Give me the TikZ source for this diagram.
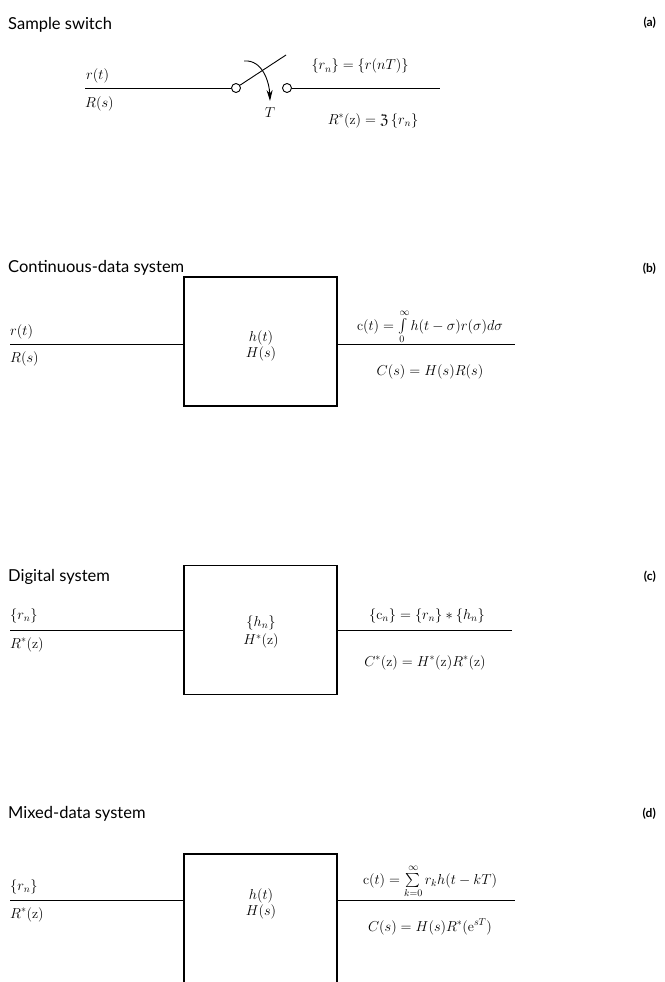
\documentclass[tikz,border=0pt]{standalone}
\usepackage{fontspec}
\usepackage{amssymb}
\newfontfamily\titlefont{Lato}
\usetikzlibrary{arrows.meta}
\begin{document}
\begin{tikzpicture}[x=1pt,y=-1pt,
  wire/.style={line width=0.9pt},
  sysbox/.style={draw,line width=1.8pt,minimum width=153pt,minimum height=129pt,inner sep=0pt},
  title/.style={anchor=base west,font=\titlefont\fontsize{16.5}{19}\selectfont,inner sep=0pt},
  tag/.style={anchor=base east,font=\titlefont\bfseries\fontsize{12}{14}\selectfont,inner sep=0pt},
  lab/.style={font=\fontsize{14}{16}\selectfont,inner sep=0pt},
  term/.style={circle,draw,line width=0.9pt,minimum size=9pt,inner sep=0pt}]
\useasboundingbox[fill=white] (0,0) rectangle (664,982);

% ---------- (a) ----------
\node[title] (ta) at (8,30) {Sample switch};
\node[tag] (la) at (656,27) {(a)};
\coordinate (ain) at (85,88);
\coordinate (aout) at (440,88);
\node[term] (s1) at (236,88) {};
\node[term] (s2) at (287,88) {};
\draw[wire] (ain) -- (s1.west);
\draw[wire] (s2.east) -- (aout);
\coordinate (blade) at (286,55);
\draw[wire] (s1.35) -- (blade);
\coordinate (arA) at (244,61);
\coordinate (arB) at (270,101);
\draw[wire,-{Stealth[length=11pt,width=6pt]}] (arA) to[out=5,in=92] (arB);
\node[lab,anchor=base] (tT) at (270,117) {$T$};
\node[lab,anchor=base west] (rt) at (86,79) {$r(t)$};
\node[lab,anchor=base west] (Rs) at (85,107) {$R(s)$};
\node[lab,anchor=base] (rn) at (360,70) {$\{r_n\} = \{r(nT)\}$};
\node[lab,anchor=base] (Rz) at (373,124) {$R^*(\mathrm{z}) = \mathfrak{Z}\,\{r_n\}$};

% ---------- (b) ----------
\node[title] (tb) at (8,272) {Continuous-data system};
\node[tag] (lb) at (656,272) {(b)};
\node[sysbox] (hb) at (260.5,341.5) {};
\node[lab,align=center] (hbt) at (261,346) {$h(t)$\\[0pt]$H(s)$};
\coordinate (bin) at (10,344);
\coordinate (bout) at (515,344);
\draw[wire] (bin) -- (hb.west |- bin);
\draw[wire] (hb.east |- bout) -- (bout);
\node[lab,anchor=base west] (brt) at (10,335) {$r(t)$};
\node[lab,anchor=base west] (bRs) at (10,362) {$R(s)$};
\node[lab,anchor=base] (bc) at (430,330) {$\mathrm{c}(t) = \int\limits_0^\infty h(t-\sigma)r(\sigma)d\sigma$};
\node[lab,anchor=base] (bC) at (430,375) {$C(s) = H(s)R(s)$};

% ---------- (c) ----------
\node[title] (tc) at (8,581) {Digital system};
\node[tag] (lc) at (656,580) {(c)};
\node[sysbox] (hc) at (260.5,630) {};
\node[lab,align=center] (hct) at (261,632) {$\{h_n\}$\\[2pt]$H^*(\mathrm{z})$};
\coordinate (cin) at (10,630);
\coordinate (cout) at (512,630);
\draw[wire] (cin) -- (hc.west |- cin);
\draw[wire] (hc.east |- cout) -- (cout);
\node[lab,anchor=base west] (crn) at (10,619) {$\{r_n\}$};
\node[lab,anchor=base west] (cRz) at (10,648) {$R^*(\mathrm{z})$};
\node[lab,anchor=base] (cc) at (427,619) {$\{\mathrm{c}_n\} = \{r_n\}*\{h_n\}$};
\node[lab,anchor=base] (cC) at (425,666) {$C^*(\mathrm{z}) = H^*(\mathrm{z})R^*(\mathrm{z})$};

% ---------- (d) ----------
\node[title] (td) at (8,818) {Mixed-data system};
\node[tag] (ld) at (656,817) {(d)};
\coordinate (dbl) at (184,984);
\coordinate (dtl) at (184,854);
\coordinate (dtr) at (337,854);
\coordinate (dbr) at (337,984);
\draw[line width=1.8pt] (dbl) -- (dtl) -- (dtr) -- (dbr);
\node[lab,align=center] (hdt) at (261,904) {$h(t)$\\[0pt]$H(s)$};
\coordinate (din) at (10,900);
\coordinate (dout) at (515,900);
\draw[wire] (din) -- (dtl |- din);
\draw[wire] (dtr |- dout) -- (dout);
\node[lab,anchor=base west] (drn) at (10,890) {$\{r_n\}$};
\node[lab,anchor=base west] (dRz) at (10,918) {$R^*(\mathrm{z})$};
\node[lab,anchor=base] (dc) at (430,884) {$\mathrm{c}(t) = \sum\limits_{k=0}^{\infty} r_k h(t-kT)$};
\node[lab,anchor=base] (dC) at (430,931) {$C(s) = H(s)R^*(\mathrm{e}^{sT})$};
\end{tikzpicture}
\end{document}
